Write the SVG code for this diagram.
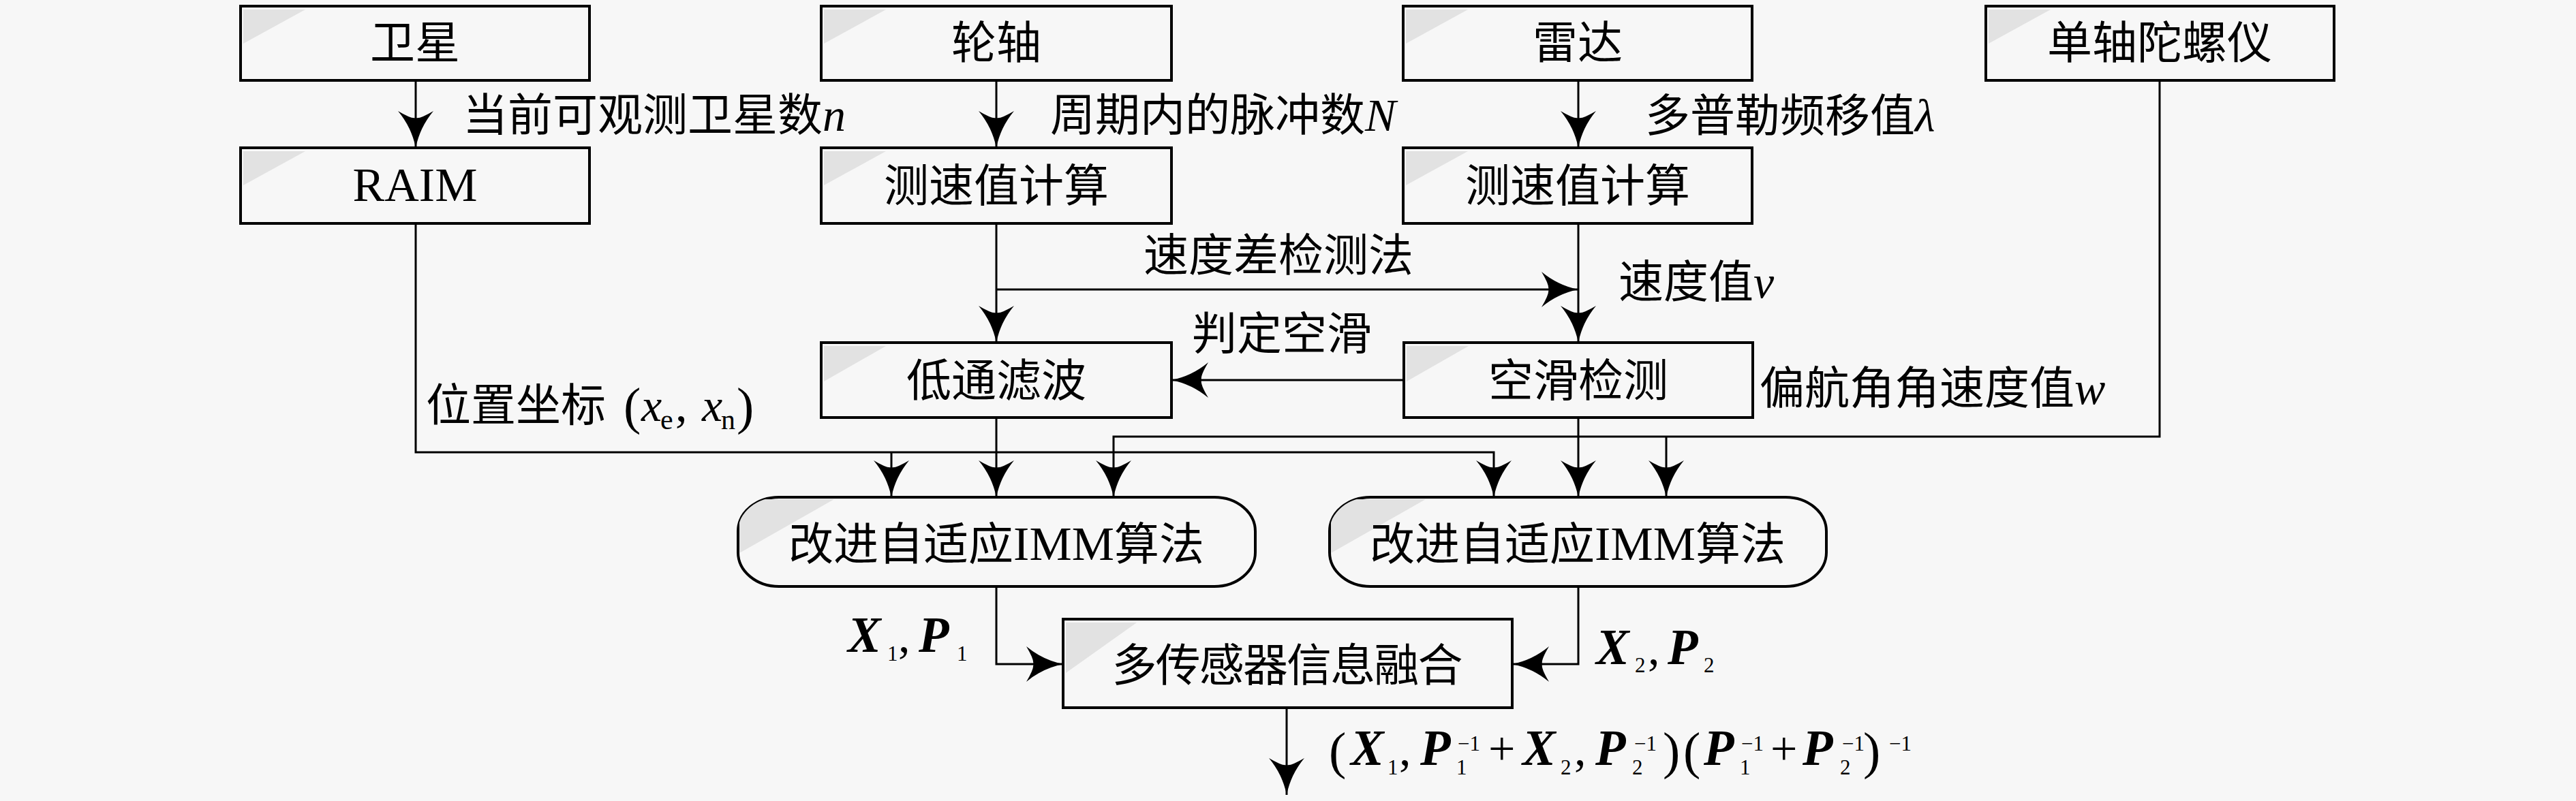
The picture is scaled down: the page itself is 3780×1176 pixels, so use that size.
<svg xmlns="http://www.w3.org/2000/svg" width="3780" height="1176" viewBox="0 0 3780 1176">
<defs>
<marker id="ah" viewBox="0 0 54 52" refX="54" refY="26" markerWidth="54" markerHeight="52" markerUnits="userSpaceOnUse" orient="auto">
<path d="M54,26 Q24,20 0,0 Q12,20 10,26 Q12,32 0,52 Q24,32 54,26 Z" fill="#000"/>
</marker>
<clipPath id="k10"><rect x="1083" y="730" width="759" height="131" rx="60" ry="50"/></clipPath>
<clipPath id="k11"><rect x="1951" y="730" width="729" height="131" rx="60" ry="50"/></clipPath>
</defs>
<style>
.box{fill:#f7f7f7;stroke:#000;stroke-width:4}
.cn{fill:#e2e2e2}
.t{font-family:"Liberation Serif","Noto Sans CJK SC",serif;font-size:66px;fill:#000}
.c{text-anchor:middle}
.lat{font-family:"Liberation Serif",serif;font-size:70px}
.mi{font-family:"Liberation Serif",serif;font-style:italic;font-size:68px}
.bm{font-family:"Liberation Serif",serif;font-style:italic;font-weight:bold;font-size:73px}
.s{font-family:"Liberation Serif",serif;font-size:31px;font-style:normal;font-weight:normal}
.sl{font-family:"Liberation Serif",serif;font-size:42px;font-style:normal}
.up{font-family:"Liberation Serif",serif;font-size:70px;font-style:normal;font-weight:normal}
.pa{font-family:"Liberation Serif",serif;font-size:76px;font-style:normal;font-weight:normal}
.ln{fill:none;stroke:#000;stroke-width:3}
.ar{marker-end:url(#ah)}
</style>
<rect width="3780" height="1176" fill="#f7f7f7"/>

<g id="n1">
<rect class="box" x="353" y="9" width="512" height="109"/>
<path class="cn" d="M357,14 H448 L357,64 Z"/>
<text class="t c" x="609" y="86">卫星</text>
</g>
<g id="n2">
<rect class="box" x="353" y="217" width="512" height="111"/>
<path class="cn" d="M357,222 H448 L357,272 Z"/>
<text class="t c lat" x="609" y="295">RAIM</text>
</g>
<g id="n3">
<rect class="box" x="1205" y="9" width="514" height="109"/>
<path class="cn" d="M1209,14 H1300 L1209,64 Z"/>
<text class="t c" x="1462" y="86">轮轴</text>
</g>
<g id="n4">
<rect class="box" x="1205" y="217" width="514" height="111"/>
<path class="cn" d="M1209,222 H1300 L1209,272 Z"/>
<text class="t c" x="1462" y="296">测速值计算</text>
</g>
<g id="n5">
<rect class="box" x="2059" y="9" width="512" height="109"/>
<path class="cn" d="M2063,14 H2154 L2063,64 Z"/>
<text class="t c" x="2315" y="86">雷达</text>
</g>
<g id="n6">
<rect class="box" x="2059" y="217" width="512" height="111"/>
<path class="cn" d="M2063,222 H2154 L2063,272 Z"/>
<text class="t c" x="2315" y="296">测速值计算</text>
</g>
<g id="n7">
<rect class="box" x="2914" y="9" width="511" height="109"/>
<path class="cn" d="M2918,14 H3009 L2918,64 Z"/>
<text class="t c" x="3169" y="86">单轴陀螺仪</text>
</g>
<g id="n8">
<rect class="box" x="1205" y="503" width="514" height="110"/>
<path class="cn" d="M1209,508 H1300 L1209,560 Z"/>
<text class="t c" x="1462" y="582">低通滤波</text>
</g>
<g id="n9">
<rect class="box" x="2060" y="503" width="512" height="110"/>
<path class="cn" d="M2064,508 H2155 L2064,560 Z"/>
<text class="t c" x="2316" y="582">空滑检测</text>
</g>
<g id="n10">
<rect class="box" x="1083" y="730" width="759" height="131" rx="60" ry="50"/>
<path class="cn" clip-path="url(#k10)" d="M1085,733 H1224 L1085,812 Z"/>
<text class="t c" x="1462" y="822">改进自适应<tspan class="lat">IMM</tspan>算法</text>
</g>
<g id="n11">
<rect class="box" x="1951" y="730" width="729" height="131" rx="60" ry="50"/>
<path class="cn" clip-path="url(#k11)" d="M1953,733 H2092 L1953,812 Z"/>
<text class="t c" x="2315" y="822">改进自适应<tspan class="lat">IMM</tspan>算法</text>
</g>
<g id="n12">
<rect class="box" x="1560" y="909" width="659" height="130"/>
<path class="cn" d="M1564,914 H1668 L1564,988 Z"/>
<text class="t c" x="1889" y="1000" textLength="515" lengthAdjust="spacing">多传感器信息融合</text>
</g>

<g id="connectors">
<path class="ln ar" d="M610,118 V217"/>
<path class="ln ar" d="M1462,118 V217"/>
<path class="ln ar" d="M2316,118 V217"/>
<path class="ln ar" d="M1462,328 V503"/>
<path class="ln ar" d="M1462,425 H2316"/>
<path class="ln ar" d="M2316,328 V503"/>
<path class="ln ar" d="M2060,558 H1719"/>
<path class="ln ar" d="M610,328 V664 H2192 V730"/>
<path class="ln ar" d="M1308,664 V730"/>
<path class="ln ar" d="M1462,613 V730"/>
<path class="ln ar" d="M3169,118 V641 H1634 V730"/>
<path class="ln ar" d="M2445,641 V730"/>
<path class="ln ar" d="M2316,613 V730"/>
<path class="ln ar" d="M1462,861 V975 H1560"/>
<path class="ln ar" d="M2316,861 V975 H2219"/>
<path class="ln ar" d="M1888,1039 V1167"/>
</g>

<g id="labels">
<text class="t" x="679" y="192">当前可观测卫星数<tspan class="mi">n</tspan></text>
<text class="t" x="1541" y="192">周期内的脉冲数<tspan class="mi">N</tspan></text>
<text class="t" x="2414" y="193">多普勒频移值<tspan class="mi">λ</tspan></text>
<text class="t" x="1678" y="398">速度差检测法</text>
<text class="t" x="2375" y="437">速度值<tspan class="mi">v</tspan></text>
<text class="t" x="1749" y="513">判定空滑</text>
<text class="t" x="2582" y="593">偏航角角速度值<tspan class="mi">w</tspan></text>
<text class="t" x="625" y="618">位置坐标<tspan class="pa" x="915" y="622">(</tspan><tspan class="mi" x="941" y="618">x</tspan><tspan class="sl" x="969" y="630">e</tspan><tspan class="up" x="991" y="618">,</tspan><tspan class="mi" x="1030" y="618">x</tspan><tspan class="sl" x="1058" y="630">n</tspan><tspan class="pa" x="1081" y="622">)</tspan></text>
<text class="t" y="957"><tspan class="bm" x="1244">X</tspan><tspan class="s" x="1302" y="970">1</tspan><tspan class="up" x="1318" y="957">,</tspan><tspan class="bm" x="1348" y="957">P</tspan><tspan class="s" x="1404" y="970">1</tspan></text>
<text class="t" y="975"><tspan class="bm" x="2342">X</tspan><tspan class="s" x="2399" y="987">2</tspan><tspan class="up" x="2418" y="975">,</tspan><tspan class="bm" x="2447" y="975">P</tspan><tspan class="s" x="2500" y="987">2</tspan></text>
<text class="t" y="1123"><tspan class="pa" x="1950" y="1128">(</tspan><tspan class="bm" x="1982" y="1123">X</tspan><tspan class="s" x="2036" y="1137">1</tspan><tspan class="up" x="2053" y="1123">,</tspan><tspan class="bm" x="2084" y="1123">P</tspan><tspan class="s" x="2139" y="1102">−1</tspan><tspan class="s" x="2137" y="1137">1</tspan><tspan class="up" x="2184" y="1123">+</tspan><tspan class="bm" x="2234" y="1123">X</tspan><tspan class="s" x="2290" y="1137">2</tspan><tspan class="up" x="2310" y="1123">,</tspan><tspan class="bm" x="2341" y="1123">P</tspan><tspan class="s" x="2398" y="1102">−1</tspan><tspan class="s" x="2395" y="1137">2</tspan><tspan class="pa" x="2440" y="1128">)</tspan><tspan class="pa" x="2470" y="1128">(</tspan><tspan class="bm" x="2500" y="1123">P</tspan><tspan class="s" x="2555" y="1102">−1</tspan><tspan class="s" x="2553" y="1137">1</tspan><tspan class="up" x="2598" y="1123">+</tspan><tspan class="bm" x="2645" y="1123">P</tspan><tspan class="s" x="2703" y="1102">−1</tspan><tspan class="s" x="2700" y="1137">2</tspan><tspan class="pa" x="2734" y="1128">)</tspan><tspan class="s" x="2772" y="1102">−1</tspan></text>
</g>
</svg>
